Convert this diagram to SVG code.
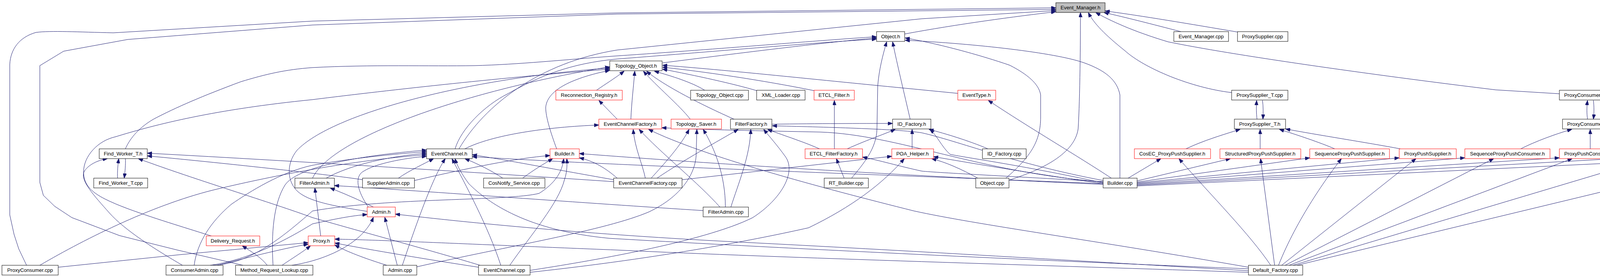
<svg xmlns="http://www.w3.org/2000/svg" width="4629" height="709" viewBox="0 0 4629 709">
<style>
.node rect { fill: #ffffff; stroke: #000000; stroke-width: 1; }
.node.red rect { stroke: #ff0000; }
.node.root rect { fill: #bfbfbf; }
.node text { font-family: "Liberation Sans", Arial, Helvetica, sans-serif; font-size: 13px; text-anchor: middle; fill: #000000; }
#edges path { fill: none; stroke: #191970; stroke-width: 1; marker-end: url(#arr); }
</style>
<defs>
<marker id="arr" viewBox="0 0 12 9" refX="12" refY="4.5" markerWidth="12" markerHeight="9" markerUnits="userSpaceOnUse" orient="auto"><path d="M0,0 L12,4.5 L0,9 z" fill="#191970" stroke="#191970"/></marker>
</defs>
<rect x="0" y="0" width="4629" height="709" fill="#ffffff"/>
<g id="edges">
<path d="M 68 679 L 48 637 L 36 600 L 25 550 L 25 165 C 27 125 50 95 92 83 C 130 78 200 82 290 84 L 800 54 L 1580 33 L 2703 20"/>
<path d="M 622 679 L 454 640 L 306 603 L 184 557 L 140 528 L 111 500 L 102 467 L 102 168 L 163 131 L 327 101 L 800 64 L 1580 36 L 2703 24"/>
<path d="M 2316 87 C 2450 62 2600 42 2703 30"/>
<path d="M 2583 461 C 2650 440 2750 400 2760 330 C 2765 250 2766 100 2766 32"/>
<path d="M 3023 81 C 2950 62 2880 44 2826 32"/>
<path d="M 3168 82 C 3050 62 2920 40 2829 28"/>
<path d="M 3153 237 C 3050 225 2930 175 2880 130 C 2830 90 2800 60 2786 32"/>
<path d="M 3992 240 L 3829 230 C 3500 190 3150 140 2990 107 C 2900 80 2840 52 2805 32"/>
<path d="M 1175 381 C 1240 270 1380 160 1580 128 L 2360 48 L 2703 27"/>
<path d="M 1696 161 C 1900 135 2100 110 2244 97"/>
<path d="M 321 381 C 330 360 350 330 393 305 C 450 275 520 245 617 209 C 680 190 730 178 800 173 C 950 165 1100 170 1214 168 C 1330 165 1440 153 1580 143 C 1850 125 2100 103 2244 94"/>
<path d="M 1165 381 C 1180 330 1240 270 1300 240 C 1380 195 1460 162 1580 151 C 1850 130 2100 108 2244 100"/>
<path d="M 2330 305 C 2315 240 2298 170 2285 107"/>
<path d="M 2180 456 C 2210 420 2244 380 2245 330 L 2247 220 C 2250 180 2260 140 2270 107"/>
<path d="M 2575 456 C 2640 400 2664 360 2664 300 L 2664 243 C 2660 215 2630 190 2585 167 C 2530 148 2420 115 2317 97"/>
<path d="M 2867 456 L 2867 243 C 2860 205 2830 180 2773 160 C 2700 135 2500 112 2317 103"/>
<path d="M 1527 231 C 1550 215 1575 200 1598 182"/>
<path d="M 1615 305 C 1617 260 1622 220 1625 182"/>
<path d="M 1767 305 C 1740 270 1680 220 1647 182"/>
<path d="M 1879 305 C 1800 270 1700 220 1655 182"/>
<path d="M 1804 231 C 1770 210 1720 195 1675 182"/>
<path d="M 1937 232 C 1880 215 1780 193 1696 177"/>
<path d="M 2084 232 C 1950 205 1800 183 1696 172"/>
<path d="M 2452 239 L 2340 228 C 2100 205 1850 178 1696 167"/>
<path d="M 541 604 C 450 575 330 540 270 510 C 230 490 214 470 214 440 C 214 400 250 360 296 350 C 400 318 550 280 800 255 C 1000 230 1300 197 1561 177"/>
<path d="M 1425 381 C 1410 340 1397 300 1397 275 C 1400 240 1440 205 1561 180"/>
<path d="M 940 541 C 850 527 790 515 762 490 C 735 465 732 420 760 385 C 850 290 1200 200 1561 174"/>
<path d="M 800 456 C 850 350 1200 230 1561 171"/>
<path d="M 1580 305 C 1565 290 1548 272 1533 257"/>
<path d="M 2845 456 C 2760 400 2640 330 2530 257"/>
<path d="M 2136 381 L 2136 257"/>
<path d="M 3218 305 C 3216 290 3216 275 3217 257"/>
<path d="M 3232 257 C 3234 272 3234 290 3233 305"/>
<path d="M 4064 305 C 4062 290 4062 275 4064 257"/>
<path d="M 4079 257 C 4081 272 4081 290 4079 305"/>
<path d="M 3036 381 C 3080 360 3130 345 3175 331"/>
<path d="M 3226 381 L 3226 331"/>
<path d="M 3417 381 C 3380 365 3320 345 3275 331"/>
<path d="M 3585 381 C 3500 365 3370 345 3291 330"/>
<path d="M 3893 381 C 3930 362 3985 342 4024 331"/>
<path d="M 4071 381 L 4071 331"/>
<path d="M 4242 381 C 4200 362 4150 345 4118 331"/>
<path d="M 4441 381 C 4350 365 4220 345 4143 330"/>
<path d="M 1652 456 C 1645 420 1625 380 1621 331"/>
<path d="M 1843 530 C 1790 470 1690 390 1636 331"/>
<path d="M 3196 684 C 2800 615 2500 575 2340 540 C 2100 480 1800 400 1660 331"/>
<path d="M 1190 381 C 1260 345 1400 325 1533 320"/>
<path d="M 2824 466 C 2500 440 2300 345 2100 338 C 1950 335 1800 332 1694 327"/>
<path d="M 1667 456 C 1700 420 1745 370 1764 331"/>
<path d="M 1067 683 C 1300 630 1550 590 1662 542 C 1740 505 1778 450 1782 400 L 1784 331"/>
<path d="M 1857 530 C 1857 450 1830 380 1800 331"/>
<path d="M 1682 456 C 1750 410 1840 360 1890 331"/>
<path d="M 1871 530 C 1890 470 1920 400 1922 331"/>
<path d="M 1357 692 C 1500 670 1800 620 1927 557 C 2000 510 2040 440 2010 400 C 1990 372 1970 350 1955 331"/>
<path d="M 2098 381 C 2050 360 2000 345 1965 331"/>
<path d="M 2824 462 C 2600 420 2450 360 2360 340 C 2300 330 2100 325 1977 322"/>
<path d="M 1976 318 C 2100 316 2200 316 2285 316"/>
<path d="M 2169 381 C 2210 362 2260 345 2292 331"/>
<path d="M 2335 381 L 2335 331"/>
<path d="M 2529 381 C 2480 360 2420 342 2378 331"/>
<path d="M 2824 468 C 2600 420 2480 405 2432 395 C 2410 375 2398 345 2380 331"/>
<path d="M 301 456 C 300 440 302 420 304 406"/>
<path d="M 321 406 C 322 420 320 440 318 456"/>
<path d="M 467 679 C 400 640 320 590 280 545 C 240 500 205 462 215 440 C 225 422 250 410 275 406"/>
<path d="M 1229 679 C 1100 640 950 600 800 557 C 700 520 500 460 354 406"/>
<path d="M 928 460 C 850 448 600 420 377 399"/>
<path d="M 1571 465 C 1200 440 800 415 377 392"/>
<path d="M 1020 456 C 1050 435 1085 420 1110 406"/>
<path d="M 1030 679 C 1070 560 1110 450 1140 406"/>
<path d="M 1282 679 C 1250 580 1190 470 1157 406"/>
<path d="M 3196 688 C 2600 665 1900 630 1560 610 C 1350 590 1250 520 1200 470 C 1182 445 1170 425 1165 406"/>
<path d="M 1287 456 C 1260 438 1225 420 1190 406"/>
<path d="M 102 679 C 220 610 400 520 560 483 C 700 450 900 410 1092 396"/>
<path d="M 497 679 C 505 620 540 567 592 523 C 640 490 720 440 800 423 C 900 405 1000 395 1092 388"/>
<path d="M 699 679 C 694 600 700 520 730 473 C 760 430 900 400 1092 384"/>
<path d="M 943 530 C 915 490 905 450 933 437 C 960 420 1030 405 1092 400"/>
<path d="M 835 456 C 900 420 1000 400 1092 392"/>
<path d="M 1571 460 C 1400 430 1300 410 1209 396"/>
<path d="M 2824 470 C 2200 445 1600 425 1209 401"/>
<path d="M 1338 456 C 1370 432 1395 418 1415 406"/>
<path d="M 1305 679 C 1360 600 1430 520 1445 460 C 1452 440 1452 420 1451 406"/>
<path d="M 545 679 C 640 675 720 610 800 540 C 1000 505 1300 515 1380 495 C 1420 470 1440 440 1443 406"/>
<path d="M 2824 472 C 2200 445 1700 410 1483 393"/>
<path d="M 1580 456 C 1550 430 1520 412 1483 404"/>
<path d="M 1061 462 C 1200 430 1320 405 1408 398"/>
<path d="M 2161 456 L 2141 406"/>
<path d="M 2824 465 C 2600 452 2400 442 2360 438 C 2300 425 2250 410 2208 402"/>
<path d="M 1746 460 L 2283 400"/>
<path d="M 1357 697 C 1700 660 1950 610 2070 583 C 2180 530 2260 470 2315 406"/>
<path d="M 2824 470 C 2650 445 2500 420 2390 401"/>
<path d="M 2503 456 C 2460 432 2420 415 2385 406"/>
<path d="M 2888 456 L 2972 406"/>
<path d="M 3253 679 C 3200 600 3100 500 3018 406"/>
<path d="M 2911 463 L 3150 406"/>
<path d="M 2911 466 L 3353 404"/>
<path d="M 2911 468 L 3582 404"/>
<path d="M 2911 470 L 3750 404"/>
<path d="M 2911 472 L 3992 404"/>
<path d="M 2911 474 L 4173 404"/>
<path d="M 2911 476 L 4405 404"/>
<path d="M 3263 679 L 3227 406"/>
<path d="M 3273 679 C 3320 560 3400 450 3434 406"/>
<path d="M 3281 679 L 3625 406"/>
<path d="M 3290 679 L 3824 406"/>
<path d="M 3300 679 L 4025 406"/>
<path d="M 3310 679 L 4224 406"/>
<path d="M 3320 679 L 4454 406"/>
<path d="M 821 604 L 806 481"/>
<path d="M 956 530 C 920 512 880 495 845 481"/>
<path d="M 1800 539 C 1500 520 1100 490 856 475"/>
<path d="M 747 679 C 840 665 930 620 956 556"/>
<path d="M 538 679 C 640 665 740 610 800 573 C 860 560 900 552 940 549"/>
<path d="M 1017 679 L 985 556"/>
<path d="M 3196 693 C 2800 670 2300 640 1900 620 C 1500 600 1200 570 1012 548"/>
<path d="M 149 684 L 459 652 L 789 621"/>
<path d="M 556 679 C 650 655 730 635 789 625"/>
<path d="M 722 679 C 750 660 775 645 795 629"/>
<path d="M 990 679 C 930 660 890 645 857 627"/>
<path d="M 1225 684 C 1100 665 950 640 857 622"/>
<path d="M 3196 697 C 2700 680 2000 660 1580 640 C 1200 625 1000 615 857 612"/>
<path d="M 684 679 C 670 660 645 645 620 629"/>
</g>
<g id="node-event-manager-h" class="node root"><rect x="2703" y="7" width="126" height="25"/><text x="2766" y="24">Event_Manager.h</text></g>
<g id="node-object-h" class="node"><rect x="2244" y="81" width="72" height="25"/><text x="2280" y="98">Object.h</text></g>
<g id="node-event-manager-cpp" class="node"><rect x="3005" y="81" width="140" height="25"/><text x="3075" y="98">Event_Manager.cpp</text></g>
<g id="node-proxysupplier-cpp" class="node"><rect x="3168" y="81" width="129" height="25"/><text x="3232" y="98">ProxySupplier.cpp</text></g>
<g id="node-topology-object-h" class="node"><rect x="1561" y="156" width="134" height="25"/><text x="1628" y="173">Topology_Object.h</text></g>
<g id="node-reconnection-registry-h" class="node red"><rect x="1423" y="231" width="170" height="25"/><text x="1508" y="248">Reconnection_Registry.h</text></g>
<g id="node-topology-object-cpp" class="node"><rect x="1768" y="231" width="148" height="25"/><text x="1842" y="248">Topology_Object.cpp</text></g>
<g id="node-xml-loader-cpp" class="node"><rect x="1937" y="231" width="124" height="25"/><text x="1999" y="248">XML_Loader.cpp</text></g>
<g id="node-etcl-filter-h" class="node red"><rect x="2084" y="231" width="103" height="25"/><text x="2135" y="248">ETCL_Filter.h</text></g>
<g id="node-eventtype-h" class="node red"><rect x="2452" y="231" width="97" height="25"/><text x="2500" y="248">EventType.h</text></g>
<g id="node-proxysupplier-t-cpp" class="node"><rect x="3153" y="231" width="144" height="25"/><text x="3225" y="248">ProxySupplier_T.cpp</text></g>
<g id="node-proxyconsumer-t-cpp" class="node"><rect x="3992" y="231" width="157" height="25"/><text x="4070" y="248">ProxyConsumer_T.cpp</text></g>
<g id="node-eventchannelfactory-h" class="node red"><rect x="1533" y="305" width="161" height="25"/><text x="1613" y="322">EventChannelFactory.h</text></g>
<g id="node-topology-saver-h" class="node red"><rect x="1718" y="305" width="129" height="25"/><text x="1782" y="322">Topology_Saver.h</text></g>
<g id="node-filterfactory-h" class="node"><rect x="1870" y="305" width="106" height="25"/><text x="1923" y="322">FilterFactory.h</text></g>
<g id="node-id-factory-h" class="node"><rect x="2285" y="305" width="98" height="25"/><text x="2334" y="322">ID_Factory.h</text></g>
<g id="node-proxysupplier-t-h" class="node"><rect x="3160" y="305" width="131" height="25"/><text x="3225" y="322">ProxySupplier_T.h</text></g>
<g id="node-proxyconsumer-t-h" class="node"><rect x="4000" y="305" width="143" height="25"/><text x="4071" y="322">ProxyConsumer_T.h</text></g>
<g id="node-find-worker-t-h" class="node"><rect x="254" y="381" width="123" height="25"/><text x="315" y="398">Find_Worker_T.h</text></g>
<g id="node-eventchannel-h" class="node"><rect x="1092" y="381" width="117" height="25"/><text x="1150" y="398">EventChannel.h</text></g>
<g id="node-builder-h" class="node red"><rect x="1408" y="381" width="75" height="25"/><text x="1445" y="398">Builder.h</text></g>
<g id="node-etcl-filterfactory-h" class="node red"><rect x="2061" y="381" width="147" height="25"/><text x="2134" y="398">ETCL_FilterFactory.h</text></g>
<g id="node-poa-helper-h" class="node red"><rect x="2283" y="381" width="107" height="25"/><text x="2336" y="398">POA_Helper.h</text></g>
<g id="node-id-factory-cpp" class="node"><rect x="2515" y="381" width="112" height="25"/><text x="2571" y="398">ID_Factory.cpp</text></g>
<g id="node-cosec-proxypushsupplier-h" class="node red"><rect x="2904" y="381" width="195" height="25"/><text x="3001" y="398">CosEC_ProxyPushSupplier.h</text></g>
<g id="node-structuredproxypushsupplier-h" class="node red"><rect x="3123" y="381" width="207" height="25"/><text x="3226" y="398">StructuredProxyPushSupplier.h</text></g>
<g id="node-sequenceproxypushsupplier-h" class="node red"><rect x="3353" y="381" width="204" height="25"/><text x="3455" y="398">SequenceProxyPushSupplier.h</text></g>
<g id="node-proxypushsupplier-h" class="node red"><rect x="3582" y="381" width="146" height="25"/><text x="3655" y="398">ProxyPushSupplier.h</text></g>
<g id="node-sequenceproxypushconsumer-h" class="node red"><rect x="3750" y="381" width="218" height="25"/><text x="3859" y="398">SequenceProxyPushConsumer.h</text></g>
<g id="node-proxypushconsumer-h" class="node red"><rect x="3992" y="381" width="159" height="25"/><text x="4071" y="398">ProxyPushConsumer.h</text></g>
<g id="node-cosec-proxypushconsumer-h" class="node red"><rect x="4173" y="381" width="208" height="25"/><text x="4277" y="398">CosEC_ProxyPushConsumer.h</text></g>
<g id="node-structuredproxypushconsumer-h" class="node red"><rect x="4405" y="381" width="220" height="25"/><text x="4515" y="398">StructuredProxyPushConsumer.h</text></g>
<g id="node-find-worker-t-cpp" class="node"><rect x="240" y="456" width="138" height="25"/><text x="309" y="473">Find_Worker_T.cpp</text></g>
<g id="node-filteradmin-h" class="node"><rect x="755" y="456" width="101" height="25"/><text x="805" y="473">FilterAdmin.h</text></g>
<g id="node-supplieradmin-cpp" class="node"><rect x="928" y="456" width="133" height="25"/><text x="994" y="473">SupplierAdmin.cpp</text></g>
<g id="node-cosnotify-service-cpp" class="node"><rect x="1238" y="456" width="157" height="25"/><text x="1316" y="473">CosNotify_Service.cpp</text></g>
<g id="node-eventchannelfactory-cpp" class="node"><rect x="1571" y="456" width="175" height="25"/><text x="1658" y="473">EventChannelFactory.cpp</text></g>
<g id="node-rt-builder-cpp" class="node"><rect x="2110" y="456" width="113" height="25"/><text x="2166" y="473">RT_Builder.cpp</text></g>
<g id="node-object-cpp" class="node"><rect x="2498" y="456" width="85" height="25"/><text x="2540" y="473">Object.cpp</text></g>
<g id="node-builder-cpp" class="node"><rect x="2824" y="456" width="87" height="25"/><text x="2867" y="473">Builder.cpp</text></g>
<g id="node-admin-h" class="node red"><rect x="940" y="530" width="72" height="25"/><text x="976" y="547">Admin.h</text></g>
<g id="node-filteradmin-cpp" class="node"><rect x="1800" y="530" width="116" height="25"/><text x="1858" y="547">FilterAdmin.cpp</text></g>
<g id="node-delivery-request-h" class="node red"><rect x="528" y="604" width="137" height="25"/><text x="596" y="621">Delivery_Request.h</text></g>
<g id="node-proxy-h" class="node red"><rect x="789" y="604" width="68" height="25"/><text x="823" y="621">Proxy.h</text></g>
<g id="node-proxyconsumer-cpp" class="node"><rect x="5" y="679" width="144" height="25"/><text x="77" y="696">ProxyConsumer.cpp</text></g>
<g id="node-consumeradmin-cpp" class="node"><rect x="425" y="679" width="146" height="25"/><text x="498" y="696">ConsumerAdmin.cpp</text></g>
<g id="node-method-request-lookup-cpp" class="node"><rect x="603" y="679" width="198" height="25"/><text x="702" y="696">Method_Request_Lookup.cpp</text></g>
<g id="node-admin-cpp" class="node"><rect x="981" y="679" width="86" height="25"/><text x="1024" y="696">Admin.cpp</text></g>
<g id="node-eventchannel-cpp" class="node"><rect x="1225" y="679" width="132" height="25"/><text x="1291" y="696">EventChannel.cpp</text></g>
<g id="node-default-factory-cpp" class="node"><rect x="3196" y="679" width="139" height="25"/><text x="3265" y="696">Default_Factory.cpp</text></g>
</svg>
